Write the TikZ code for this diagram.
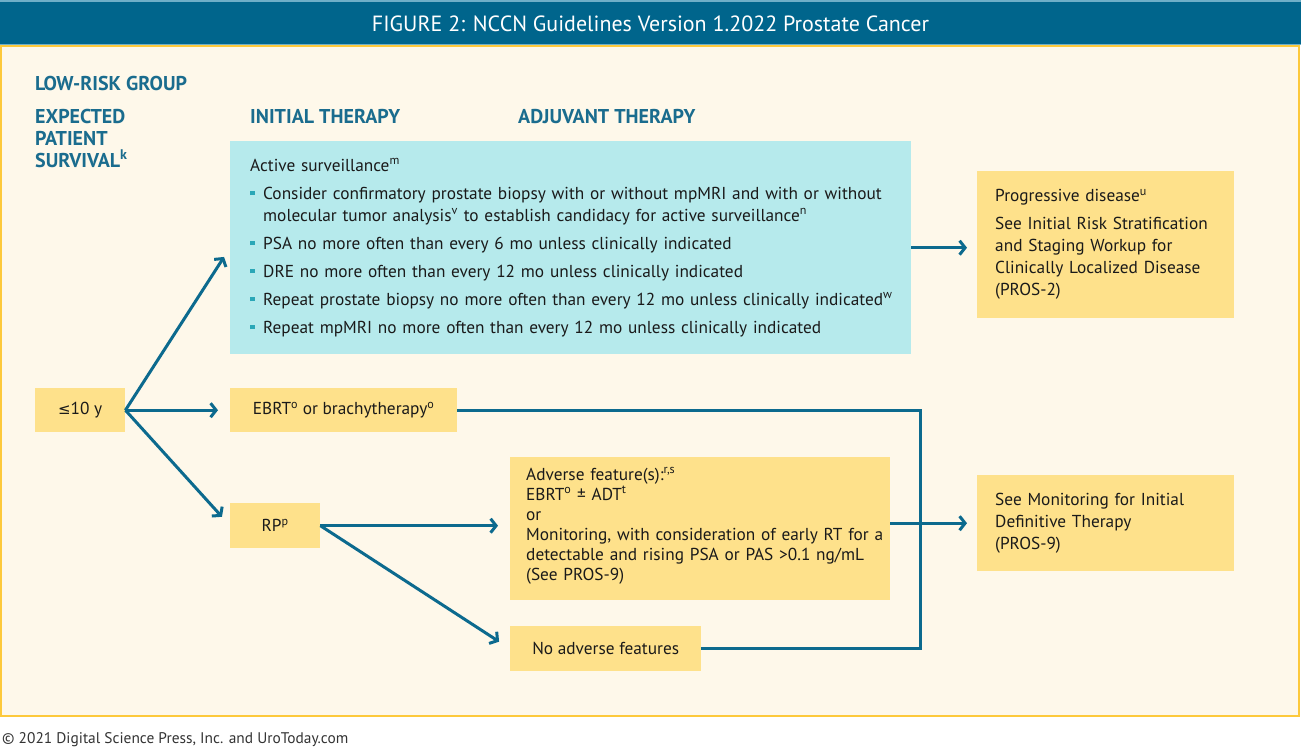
\documentclass[tikz,border=0pt]{standalone}
\usepackage{fontspec}
\setmainfont{PT Sans}
\newfontfamily\symfont{DejaVu Sans}
\usepackage{xcolor}
\usetikzlibrary{arrows.meta,positioning,calc}

\definecolor{titleblue}{RGB}{0,101,140}
\definecolor{barline}{RGB}{110,175,200}
\definecolor{cream}{RGB}{254,248,234}
\definecolor{panelyel}{RGB}{253,201,59}
\definecolor{boxyel}{RGB}{254,225,139}
\definecolor{boxcyan}{RGB}{182,234,236}
\definecolor{headblue}{RGB}{26,108,142}
\definecolor{flowblue}{RGB}{12,106,142}
\definecolor{bulcol}{RGB}{42,167,183}
\definecolor{ink}{RGB}{26,26,26}
\definecolor{footgray}{RGB}{51,51,51}

\newcommand{\bodyfont}{\fontsize{17.3}{22}\selectfont}
\newcommand{\advfont}{\fontsize{17.3}{20}\selectfont}
\newcommand{\headfont}{\fontsize{20}{22}\selectfont\bfseries}
\newcommand{\tightlines}{\lineskiplimit=-20pt\relax}
\newcommand{\itm}{\par\vspace{6pt}\hangindent=13pt\hangafter=1\noindent
  \makebox[13pt][l]{\textcolor{bulcol}{\rule[4pt]{4.5pt}{4.5pt}}}}

\begin{document}
\begin{tikzpicture}[x=1pt, y=-1pt,
  every node/.style={font=\bodyfont, text=ink},
  cbox/.style={fill=boxyel, anchor=north west, inner sep=0pt, align=center},
  tbox/.style={fill=boxyel, anchor=north west, inner ysep=0pt, inner xsep=18pt, align=left},
  head/.style={anchor=base west, inner sep=0pt, font=\headfont, text=headblue, align=left},
  flow/.style={draw=flowblue, line width=3pt},
  go/.style={flow, -{Straight Barb[length=5.5pt,width=14pt]}}]
  \useasboundingbox (0,0) rectangle (1301,748);
  % frame and title bar
  \draw[draw=panelyel, fill=cream, line width=2pt] (1,46) rectangle (1299,716);
  \fill[titleblue] (0,0) rectangle (1301,45);
  \draw[barline, line width=1.5pt] (0,1) -- (1301,1);
  \draw[barline, line width=1pt] (0,44.5) -- (1301,44.5);
  \node[text=white, font=\fontsize{22}{24}\selectfont] (title) at (650.5,24)
    {FIGURE 2: NCCN Guidelines Version 1.2022 Prostate Cancer};
  \node[anchor=base west, inner sep=0pt, text=footgray, font=\fontsize{15.4}{16}\selectfont] (foot) at (2,743)
    {© 2021 Digital Science Press, Inc. and UroToday.com};

  % column headings
  \node[head] (risk) at (35,90) {LOW-RISK GROUP};
  \node[head, anchor=north west] (surv) at (35,109) {EXPECTED\\PATIENT\\SURVIVAL\textsuperscript{k}};
  \node[head] (init) at (250,123) {INITIAL THERAPY};
  \node[head] (adj) at (518,123) {ADJUVANT THERAPY};

  % boxes
  \node[cbox, minimum width=90pt, minimum height=44pt] (life) at (35,388) {{\symfont\fontsize{15}{16}\selectfont ≤}10 y};
  \node[tbox, fill=boxcyan, inner xsep=20pt, minimum width=681pt, minimum height=213pt, text width=641pt] (as) at (230,141)
    {Active surveillance\textsuperscript{m}
     \itm \mbox{Consider confirmatory prostate biopsy with or without mpMRI and with or without}\newline
       molecular tumor analysis\textsuperscript{v} to establish candidacy for active surveillance\textsuperscript{n}
     \itm PSA no more often than every 6 mo unless clinically indicated
     \itm DRE no more often than every 12 mo unless clinically indicated
     \itm \mbox{Repeat prostate biopsy no more often than every 12 mo unless clinically indicated\textsuperscript{w}}
     \itm Repeat mpMRI no more often than every 12 mo unless clinically indicated};
  \node[cbox, minimum width=191pt, minimum height=45pt] (noadv) at (510,626) {No adverse features};
  \node[cbox, minimum width=227pt, minimum height=44pt] (ebrt) at (230,388)
    {EBRT\textsuperscript{o} or brachytherapy\textsuperscript{o}};
  \node[cbox, minimum width=90pt, minimum height=45pt] (rp) at (230,503) {RP\textsuperscript{p}};
  \node[tbox, inner xsep=16pt, minimum width=380pt, minimum height=143pt, text width=348pt,
    font=\advfont] (adv) at (510,457)
    {\tightlines
     Adverse feature(s):\textsuperscript{r,s}\\
     EBRT\textsuperscript{o} ± ADT\textsuperscript{t}\\
     or\\
     \mbox{Monitoring, with consideration of early RT for a}\\
     \mbox{detectable and rising PSA or PAS >0.1 ng/mL}\\
     (See PROS-9)\par\vspace{6pt}};
  \node[tbox, minimum width=257pt, minimum height=147pt, text width=221pt] (prog) at (977,171)
    {Progressive disease\textsuperscript{u}\par\vspace{6pt}
     See Initial Risk Stratification\\
     and Staging Workup for\\
     Clinically Localized Disease\\
     (PROS-2)};
  \node[tbox, minimum width=257pt, minimum height=96pt, text width=221pt] (mon) at (977,475)
    {See Monitoring for Initial\\
     Definitive Therapy\\
     (PROS-9)};

  % connectors
  \draw[go, shorten >=11pt] (life.east) -- (as.west);
  \draw[go, shorten >=12pt] (life.east) -- (ebrt.west);
  \draw[go, shorten >=12pt] (life.east) -- (rp.west);
  \draw[go, shorten >=10pt] (as.east) -- (as.east -| prog.west);
  \draw[go, shorten >=12pt] (rp.east) -- (rp.east -| adv.west);
  \draw[go, shorten >=13pt] (rp.east) -- (noadv.west);
  \coordinate (merge) at (920,0);
  \draw[flow] (ebrt.east) -| (merge |- noadv.east) -- (noadv.east);
  \draw[go, shorten >=10pt] (adv.east |- mon.west) -- (mon.west);
\end{tikzpicture}
\end{document}
